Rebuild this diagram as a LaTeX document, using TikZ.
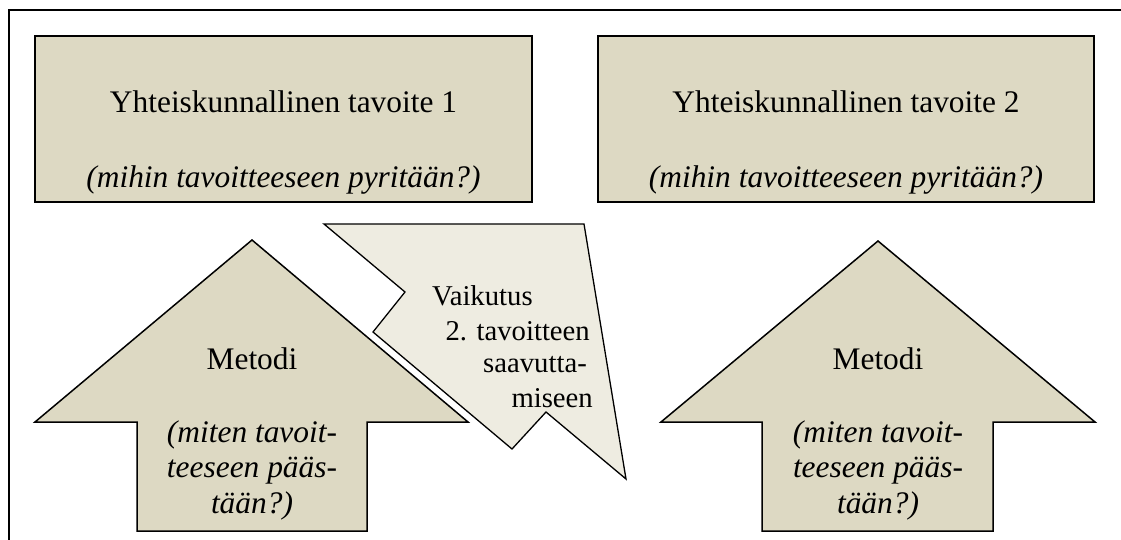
\documentclass[tikz,border=0pt]{standalone}
\usepackage{fontspec}
\setmainfont{Liberation Serif}
\definecolor{boxfill}{HTML}{DDD9C3}
\definecolor{callfill}{HTML}{EEECE1}
\tikzset{
  shapebox/.style={draw=black, line width=1.5pt, fill=boxfill, line join=miter},
  callbox/.style={draw=black, line width=1.3pt, fill=callfill, line join=miter},
  bigtxt/.style={inner sep=0pt, anchor=base, font=\fontsize{31.4}{37}\selectfont},
  bigit/.style={inner sep=0pt, anchor=base, font=\fontsize{31.4}{37}\selectfont\itshape},
  calltxt/.style={inner sep=0pt, anchor=base east, font=\fontsize{28.7}{34}\selectfont},
}
\begin{document}
\begin{tikzpicture}[x=1pt,y=-1pt]
\useasboundingbox (0,0) rectangle (1121,540);
% outer frame
\draw[line width=1.2pt] (9,540) -- (9,10) -- (1121,10);
% boxes
\draw[shapebox] (35,36) rectangle (532,202);
\draw[shapebox] (598,36) rectangle (1094,202);
\node[bigtxt] (t1) at (283.5,113) {Yhteiskunnallinen tavoite 1};
\node[bigit] (q1) at (283.5,188) {(mihin tavoitteeseen pyritään?)};
\node[bigtxt] (t2) at (846,113) {Yhteiskunnallinen tavoite 2};
\node[bigit] (q2) at (846,188) {(mihin tavoitteeseen pyritään?)};
% left arrow
\draw[shapebox] (252,240) -- (468,422) -- (367,422) -- (367,531) -- (137,531) -- (137,422) -- (35,422) -- cycle;
\node[bigtxt] (m1) at (252,369) {Metodi};
\node[bigit] (m1a) at (252,442) {(miten tavoit-};
\node[bigit] (m1b) at (252,477) {teeseen pääs-};
\node[bigit] (m1c) at (252,513) {tään?)};
% right arrow
\draw[shapebox] (878,241) -- (1095,422) -- (993,422) -- (993,531) -- (762,531) -- (762,422) -- (661,422) -- cycle;
\node[bigtxt] (m2) at (878,369) {Metodi};
\node[bigit] (m2a) at (878,442) {(miten tavoit-};
\node[bigit] (m2b) at (878,477) {teeseen pääs-};
\node[bigit] (m2c) at (878,513) {tään?)};
% callout
\draw[callbox] (324,224) -- (584,224) -- (626,479) -- (546,412) -- (512,449) -- (373,332) -- (405,292) -- cycle;
\node[inner sep=0pt, anchor=base west, font=\fontsize{28.7}{34}\selectfont] (v1) at (432,305) {Vaikutus};
\node[calltxt] (v2) at (590,340) {2. tavoitteen};
\node[calltxt] (v3) at (587,372) {saavutta-};
\node[calltxt] (v4) at (593,407) {miseen};
\end{tikzpicture}
\end{document}
